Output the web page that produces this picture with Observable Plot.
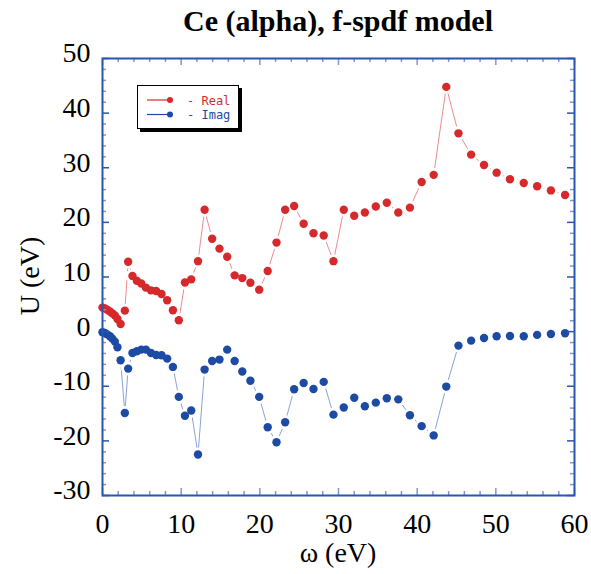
<!DOCTYPE html>
<html>
<head>
<meta charset="utf-8">
<script src="https://cdn.jsdelivr.net/npm/d3@7"></script>
<script src="https://cdn.jsdelivr.net/npm/@observablehq/plot@0.6"></script>
<style>
  html, body { margin: 0; padding: 0; background: #fff; }
  #chart { position: relative; width: 591px; height: 574px; }
  #chart svg { position: absolute; left: 0; top: 0; }
  .title { position: absolute; left: 102px; width: 472px; top: 4px; text-align: center;
           font: bold 30px "Liberation Serif", serif; color: #000; }
  .ylabel { position: absolute; left: 30px; top: 276px; transform: translate(-50%, -50%) rotate(-90deg);
            font: 28px "Liberation Serif", serif; white-space: nowrap; }
  .xlabel { position: absolute; left: 338px; top: 553px; transform: translate(-50%, -50%);
            font: 28px "Liberation Serif", serif; white-space: nowrap; }
  .legend { position: absolute; left: 137px; top: 85px; width: 100px; height: 42px;
            border: 1.5px solid #000; background: #fff; box-shadow: 3px 3px 0 #000; }
  .legend svg { position: static; }
</style>
</head>
<body>
<div id="chart"></div>
<script>
// Photon energy ω (eV), shared by both series
const omega = [0, 0.3, 0.6, 0.95, 1.25, 1.57, 1.9, 2.3, 2.84, 3.26, 3.81, 4.36, 4.93, 5.52, 6.16, 6.82,
  7.5, 8.22, 8.95, 9.7, 10.48, 11.28, 12.14, 12.98, 13.94, 14.87, 15.85, 16.8, 17.77, 18.8, 19.92,
  21.0, 22.12, 23.22, 24.36, 25.57, 26.82, 28.12, 29.36, 30.67, 32.0, 33.35, 34.74, 36.14, 37.6,
  39.08, 40.57, 42.1, 43.7, 45.25, 46.86, 48.5, 50.1, 51.8, 53.55, 55.25, 57.0, 58.8];

// Real part of U(ω), eV
const realU = [4.4, 4.26, 4.0, 3.7, 3.35, 2.98, 2.32, 1.4, 3.84, 12.8, 10.2, 9.3, 8.8, 8.05, 7.56, 7.44,
  6.9, 5.73, 3.9, 2.07, 9.0, 9.57, 12.9, 22.3, 17.0, 15.2, 13.7, 10.3, 9.8, 8.96, 7.68,
  11.1, 16.3, 22.3, 23.0, 19.75, 18.0, 17.6, 12.9, 22.3, 21.2, 21.8, 22.9, 23.6, 21.8,
  22.7, 27.4, 28.7, 44.8, 36.3, 32.4, 30.5, 29.1, 27.9, 27.2, 26.6, 25.85, 25.0];

// Imaginary part of U(ω), eV
const imagU = [-0.1, -0.25, -0.5, -0.86, -1.28, -1.83, -2.87, -5.24, -14.9, -6.77, -3.9, -3.6, -3.3, -3.3, -3.9, -4.27,
  -4.33, -4.94, -6.46, -11.95, -15.4, -14.45, -22.5, -6.95, -5.37, -5.12, -3.3, -5.37, -7.3, -9.0, -11.95,
  -17.5, -20.25, -16.6, -10.55, -9.4, -10.5, -9.2, -15.2, -13.9, -12.1, -13.65, -13.0, -12.2, -12.4,
  -15.3, -17.3, -19.0, -10.06, -2.56, -1.65, -1.16, -0.86, -0.8, -0.86, -0.6, -0.43, -0.3];

const seriesNames = ["Real", "Imag"];
const xMajor = [0, 10, 20, 30, 40, 50, 60];
const yMajor = [-30, -20, -10, 0, 10, 20, 30, 40, 50];
const xMinor = d3.range(0, 61, 2).filter(v => v % 10 !== 0);
const yMinor = d3.range(-30, 51, 2).filter(v => v % 10 !== 0);

const colors = { Real: "#d6292b", Imag: "#1d4ba3" };
const lineColors = { Real: "#ec8c8e", Imag: "#8aa3d8" };
const frameColor = "#2a55b0";
const minorColor = "#7d98d2";

const real = omega.map((w, i) => ({ w, u: realU[i] }));
const imag = omega.map((w, i) => ({ w, u: imagU[i] }));

const W = 591, H = 574, mL = 102, mR = 17, mT = 58, mB = 79;
const innerW = W - mL - mR, innerH = H - mT - mB;
const major = 7, minor = 4;

const plot = Plot.plot({
  width: W, height: H,
  marginLeft: mL, marginRight: mR, marginTop: mT, marginBottom: mB,
  x: { domain: [0, 60] },
  y: { domain: [-30, 50] },
  style: { fontFamily: "'Liberation Serif', serif", fontSize: "28px", color: "#000", background: "transparent" },
  marks: [
    Plot.line(real, { x: "w", y: "u", stroke: lineColors.Real, strokeWidth: 1 }),
    Plot.line(imag, { x: "w", y: "u", stroke: lineColors.Imag, strokeWidth: 1 }),
    Plot.dot(real, { x: "w", y: "u", r: 7, fill: "#fff" }),
    Plot.dot(imag, { x: "w", y: "u", r: 7, fill: "#fff" }),
    Plot.dot(real, { x: "w", y: "u", r: 4.2, fill: colors.Real }),
    Plot.dot(imag, { x: "w", y: "u", r: 4.2, fill: colors.Imag }),
    // inward ticks on all four sides
    Plot.tickX(xMinor, { x: d => d, insetTop: innerH - minor, stroke: minorColor, strokeWidth: 1.5 }),
    Plot.tickX(xMinor, { x: d => d, insetBottom: innerH - minor, stroke: minorColor, strokeWidth: 1.5 }),
    Plot.tickX(xMajor, { x: d => d, insetTop: innerH - major, stroke: minorColor, strokeWidth: 1.5 }),
    Plot.tickX(xMajor, { x: d => d, insetBottom: innerH - major, stroke: minorColor, strokeWidth: 1.5 }),
    Plot.tickY(yMinor, { y: d => d, insetRight: innerW - minor, stroke: minorColor, strokeWidth: 1.5 }),
    Plot.tickY(yMinor, { y: d => d, insetLeft: innerW - minor, stroke: minorColor, strokeWidth: 1.5 }),
    Plot.tickY(yMajor, { y: d => d, insetRight: innerW - major, stroke: frameColor, strokeWidth: 1.5 }),
    Plot.tickY(yMajor, { y: d => d, insetLeft: innerW - major, stroke: frameColor, strokeWidth: 1.5 }),
    Plot.frame({ stroke: frameColor, strokeWidth: 2 }),
    Plot.axisX({ ticks: xMajor, tickSize: 0, tickPadding: 18, tickFormat: d => String(d), label: null }),
    Plot.axisY({ ticks: yMajor, tickSize: 0, tickPadding: 12, dy: -5, tickFormat: d => String(d), label: null })
  ]
});

const chart = document.getElementById("chart");
chart.appendChild(plot);

const title = document.createElement("div");
title.className = "title";
title.textContent = "Ce (alpha), f-spdf model";
chart.appendChild(title);

const yl = document.createElement("div");
yl.className = "ylabel";
yl.textContent = "U (eV)";
chart.appendChild(yl);

const xl = document.createElement("div");
xl.className = "xlabel";
xl.textContent = "ω (eV)";
chart.appendChild(xl);

// legend box with line + dot swatches
const legend = document.createElement("div");
legend.className = "legend";
const ns = "http://www.w3.org/2000/svg";
const lsvg = document.createElementNS(ns, "svg");
lsvg.setAttribute("width", 100);
lsvg.setAttribute("height", 42);
seriesNames.forEach((name, i) => {
  const cy = 14 + i * 14.5;
  const ln = document.createElementNS(ns, "line");
  ln.setAttribute("x1", 9); ln.setAttribute("x2", 31);
  ln.setAttribute("y1", cy); ln.setAttribute("y2", cy);
  ln.setAttribute("stroke", colors[name]); ln.setAttribute("stroke-width", 1.2);
  lsvg.appendChild(ln);
  const c = document.createElementNS(ns, "circle");
  c.setAttribute("cx", 32); c.setAttribute("cy", cy); c.setAttribute("r", 3);
  c.setAttribute("fill", colors[name]);
  lsvg.appendChild(c);
  const t = document.createElementNS(ns, "text");
  t.setAttribute("transform", `translate(49,${cy + 4.5})`);
  t.setAttribute("font-family", "'DejaVu Sans Mono', monospace");
  t.setAttribute("font-size", 12);
  t.setAttribute("fill", colors[name]);
  t.textContent = "- " + name;
  lsvg.appendChild(t);
});
legend.appendChild(lsvg);
chart.appendChild(legend);
</script>
</body>
</html>
